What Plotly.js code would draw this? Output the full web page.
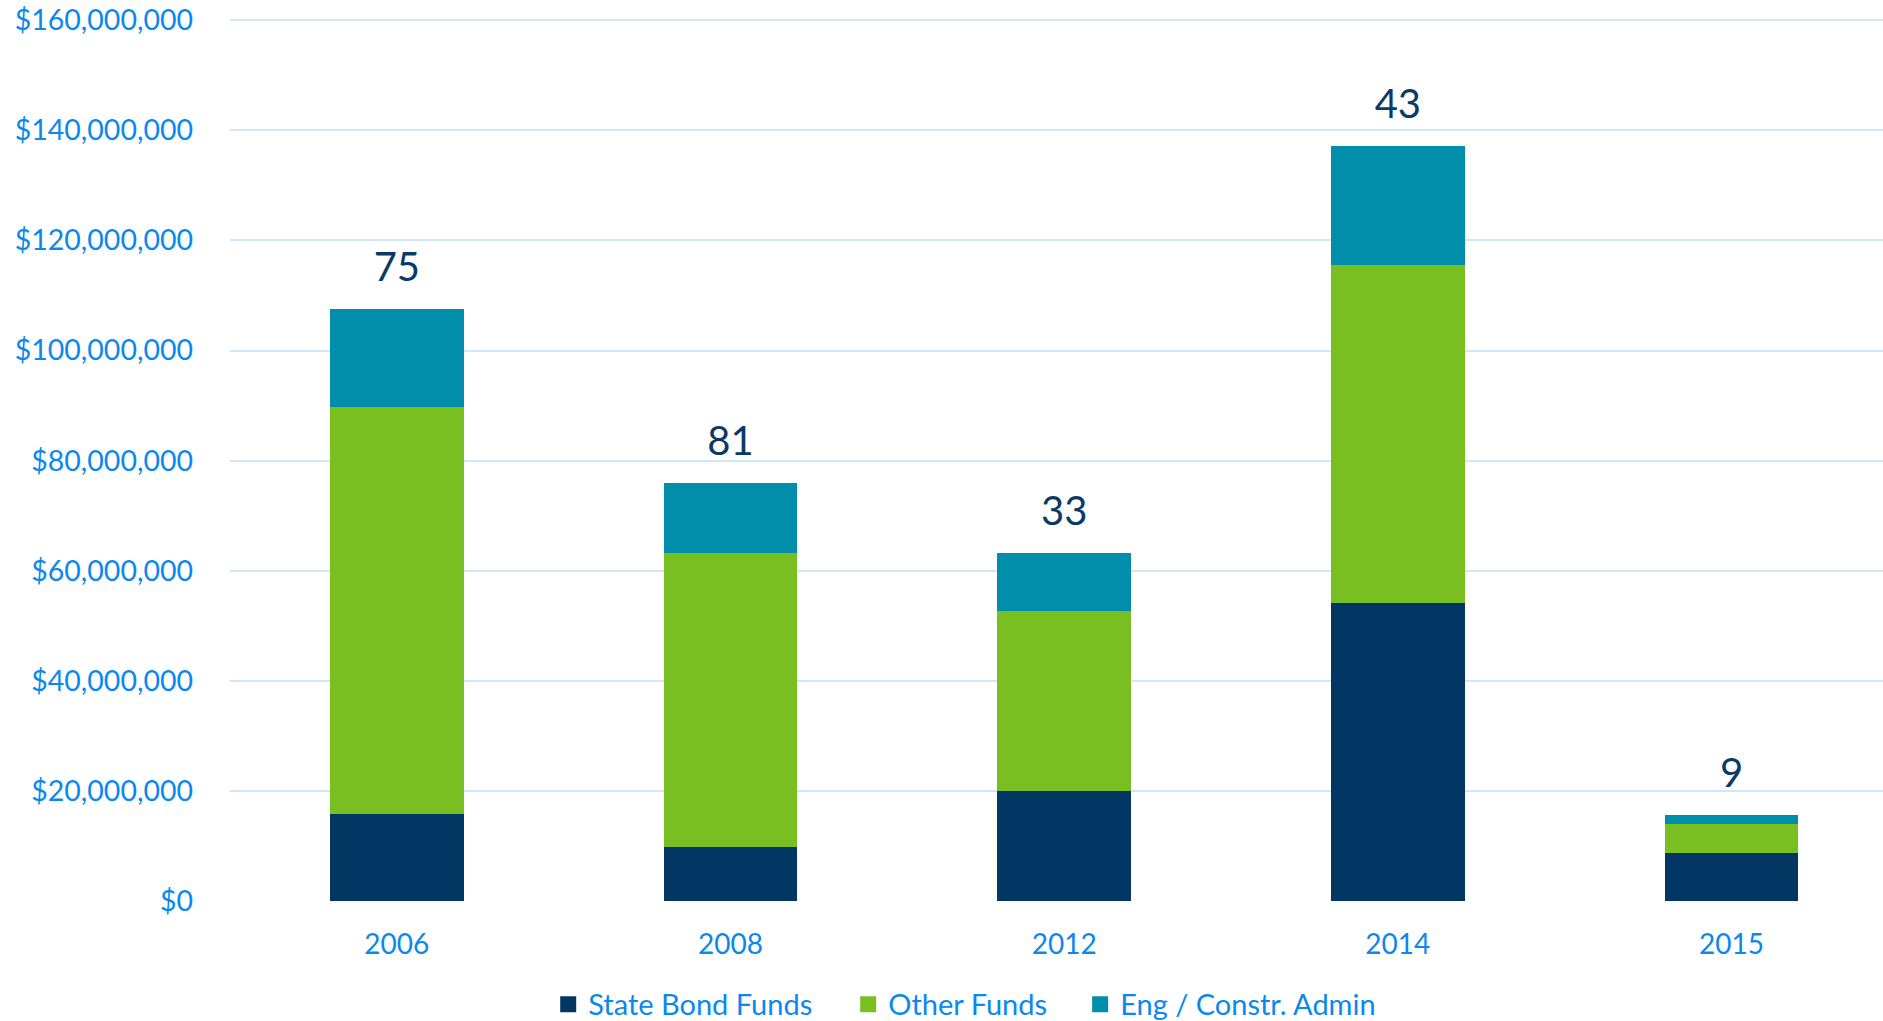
<!DOCTYPE html>
<html>
<head>
<meta charset="utf-8">
<script src="https://cdn.plot.ly/plotly-3.0.1.min.js"></script>
<style>
  html, body { margin: 0; padding: 0; background: #ffffff; }
  #chart { width: 1883px; height: 1021px; }
</style>
</head>
<body>
<div id="chart"></div>
<script>
// ---- Data ----
const years = ['2006', '2008', '2012', '2014', '2015'];
const stateBondFunds = [15.8e6, 9.9e6, 19.9e6, 54.2e6, 8.8e6];
const otherFunds     = [74.0e6, 53.4e6, 32.8e6, 61.4e6, 5.2e6];
const engConstrAdmin = [17.8e6, 12.7e6, 10.5e6, 21.6e6, 1.7e6];
const projectCounts  = [75, 81, 33, 43, 9];
const yTickValues = [0, 20e6, 40e6, 60e6, 80e6, 100e6, 120e6, 140e6, 160e6];

const seriesNames = ['State Bond Funds', 'Other Funds', 'Eng / Constr. Admin'];
const seriesColors = ['#023764', '#7abf21', '#018eaa'];
const legendIds = ['legend', 'legend2', 'legend3'];
const legendX = [0.1925, 0.3740, 0.5143];

const FONT = 'Lato, "Open Sans", "Noto Sans", sans-serif';
const TICK_BLUE = '#0a88ee';

const seriesValues = [stateBondFunds, otherFunds, engConstrAdmin];

// stacked bars (legend shown through square key entries below)
const traces = seriesValues.map((vals, i) => ({
  type: 'bar',
  name: seriesNames[i],
  x: years,
  y: vals,
  marker: { color: seriesColors[i], line: { width: 0 } },
  showlegend: false,
  hoverinfo: 'x+y+name'
}));

// legend keys: square symbols, one legend per series
seriesNames.forEach((name, i) => {
  traces.push({
    type: 'scatter',
    mode: 'markers',
    name: name,
    legend: legendIds[i],
    x: [years[0]],
    y: [null],
    marker: { symbol: 'square', size: 16, color: seriesColors[i] },
    hoverinfo: 'skip',
    showlegend: true
  });
});

// project-count labels above each stacked bar
const totals = years.map((_, i) => stateBondFunds[i] + otherFunds[i] + engConstrAdmin[i]);
traces.push({
  type: 'scatter',
  mode: 'markers+text',
  x: years,
  y: totals,
  text: projectCounts.map(String),
  textposition: 'top center',
  textfont: { family: FONT, size: 40, color: '#0b3a66' },
  marker: { size: 27, opacity: 0 },
  showlegend: false,
  hoverinfo: 'skip',
  cliponaxis: false
});

function legendStyle(x) {
  return {
    orientation: 'h',
    x: x,
    xanchor: 'left',
    y: -0.117,
    yanchor: 'middle',
    bgcolor: 'rgba(0,0,0,0)',
    font: { family: FONT, size: 29, color: TICK_BLUE },
    itemclick: false,
    itemdoubleclick: false
  };
}

const layout = {
  width: 1883,
  height: 1021,
  margin: { l: 230, r: 0, t: 18, b: 120, autoexpand: false },
  paper_bgcolor: '#ffffff',
  plot_bgcolor: '#ffffff',
  barmode: 'stack',
  bargap: 0.6,
  showlegend: true,
  legend: legendStyle(legendX[0]),
  legend2: legendStyle(legendX[1]),
  legend3: legendStyle(legendX[2]),
  xaxis: {
    type: 'category',
    range: [-0.5, 4.454],
    showgrid: false,
    zeroline: false,
    showline: false,
    ticks: '',
    ticklabelstandoff: 24,
    tickfont: { family: FONT, size: 28, color: TICK_BLUE },
    fixedrange: true
  },
  yaxis: {
    range: [0, 160.4e6],
    tickmode: 'array',
    tickvals: yTickValues,
    tickformat: '$,.0f',
    showgrid: true,
    gridcolor: '#cfe7fa',
    gridwidth: 1.5,
    zeroline: false,
    showline: false,
    ticks: '',
    ticklabelstandoff: 36,
    tickfont: { family: FONT, size: 28.5, color: TICK_BLUE },
    fixedrange: true
  }
};

Plotly.newPlot('chart', traces, layout, { displayModeBar: false });
</script>
</body>
</html>
